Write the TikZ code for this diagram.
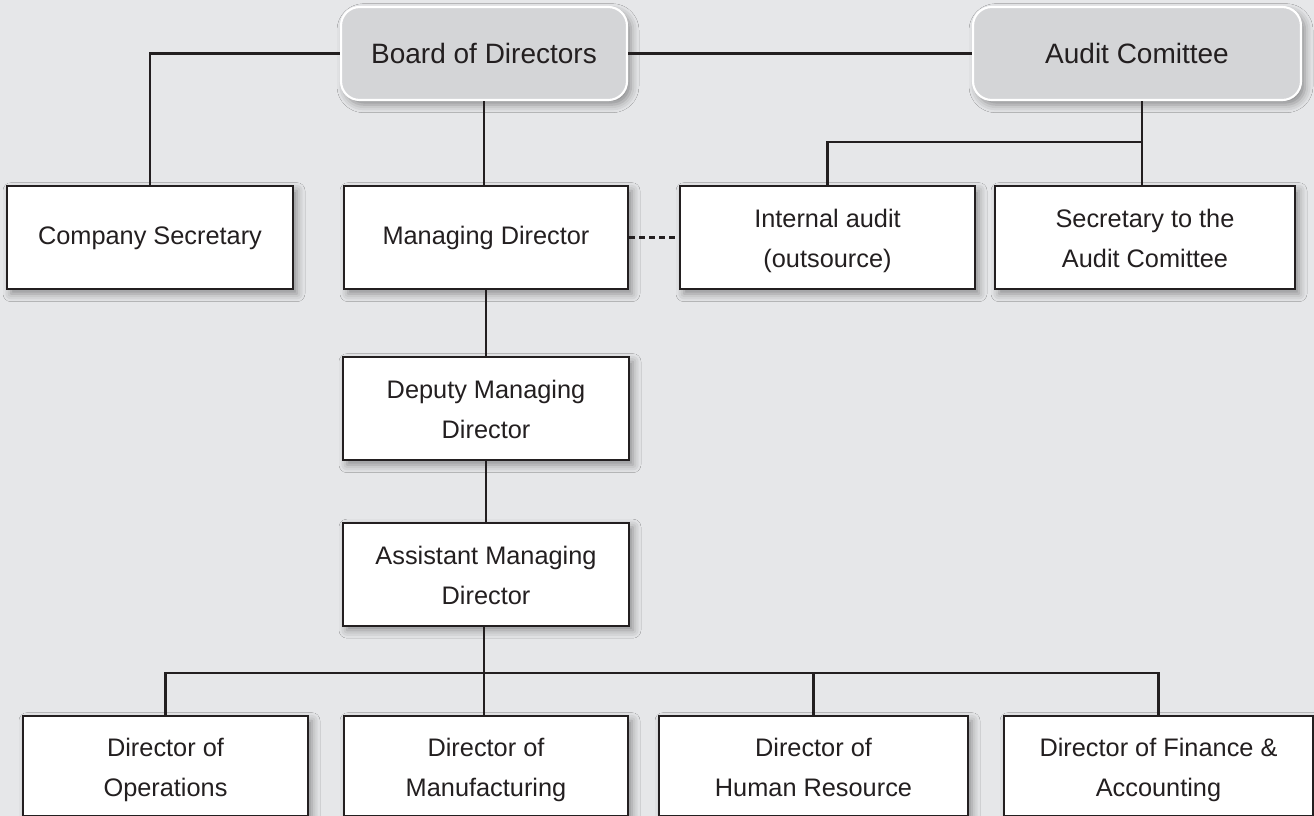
\documentclass[tikz,border=0pt]{standalone}
\usepackage{fontspec}
\setmainfont{Liberation Sans}
\usetikzlibrary{shadows.blur}
\definecolor{bgcol}{HTML}{E6E7E9}
\definecolor{topfill}{HTML}{D4D5D7}
\definecolor{ink}{HTML}{231F20}
% fixed line heights so every box sets its text at the same baselines
\newcommand{\oneline}[1]{\rule{0pt}{15pt}#1\rule[-5pt]{0pt}{5pt}}
\newcommand{\twolines}[2]{\rule{0pt}{20pt}#1\\#2\rule[-5pt]{0pt}{5pt}}
\begin{document}
\begin{tikzpicture}[x=0.75pt, y=-0.75pt,
  softshadow/.style={blur shadow={shadow xshift=3pt, shadow yshift=-3.5pt,
      shadow blur radius=6pt, shadow opacity=40}},
  topbox/.style={draw=white, line width=1.6pt, fill=topfill, rounded corners=14pt,
      softshadow, minimum height=69.75pt, text=ink,
      font=\fontsize{21}{30}\selectfont},
  unitbox/.style={draw=ink, line width=1.5pt, fill=white, softshadow,
      minimum height=77.25pt, text=ink, align=center,
      font=\fontsize{19}{30}\selectfont},
  link/.style={draw=ink, line width=1.6pt},
  dottedlink/.style={link, dash pattern=on 4.5pt off 3pt}]
  \fill[bgcol] (0,0) rectangle (1314,816);
  \useasboundingbox (0,0) rectangle (1314,816);
  \clip (0,0) rectangle (1314,816);

  % governing bodies
  \node[topbox, minimum width=214.5pt] (board) at (484,53.5) {Board of Directors};
  \node[topbox, minimum width=246pt] (audit) at (1137,53.5) {Audit Comittee};

  % second tier
  \node[unitbox, minimum width=214.5pt] (cs) at (150,237.5) {\oneline{Company Secretary}};
  \node[unitbox, minimum width=213pt] (md) at (486,237.5) {\oneline{Managing Director}};
  \node[unitbox, minimum width=221.25pt] (ia) at (827.5,237.5) {\twolines{Internal audit}{(outsource)}};
  \node[unitbox, minimum width=225pt] (sec) at (1145,237.5) {\twolines{Secretary to the}{Audit Comittee}};

  % executive line
  \node[unitbox, minimum width=214.5pt] (dep) at (486,408.5) {\twolines{Deputy Managing}{Director}};
  \node[unitbox, minimum width=214.5pt] (ast) at (486,574) {\twolines{Assistant Managing}{Director}};

  % directors (lower edge runs off the page)
  \node[unitbox, minimum width=213.75pt, minimum height=75pt] (ops) at (165.5,766) {\twolines{Director of}{Operations}};
  \node[unitbox, minimum width=213pt, minimum height=75pt] (mfg) at (486,766) {\twolines{Director of}{Manufacturing}};
  \node[unitbox, minimum width=231.75pt, minimum height=75pt] (hr) at (813.5,766) {\twolines{Director of}{Human Resource}};
  \node[unitbox, minimum width=231.75pt, minimum height=75pt] (fin) at (1158.5,766) {\twolines{Director of Finance \&}{Accounting}};

  % junction points
  \coordinate (abus) at (1142,142);
  \coordinate (bbus) at (484,673);

  % connectors
  \draw[link] (board) -| (cs);
  \draw[link] (board) -- (audit);
  \draw[link] (board.south) -- (board.south |- md.north);
  \draw[link] (md) -- (dep);
  \draw[link] (dep) -- (ast);
  \draw[dottedlink] (md.east) -- (ia.west);
  \draw[link] (abus |- audit.south) -- (abus |- sec.north);
  \draw[link] (ia.north) |- (abus);
  \draw[link] (ast.south -| bbus) -- (bbus |- mfg.north);
  \draw[link] (ops.north) |- (bbus) -| (fin.north);
  \draw[link] (hr.north) -- (hr.north |- bbus);
\end{tikzpicture}
\end{document}
